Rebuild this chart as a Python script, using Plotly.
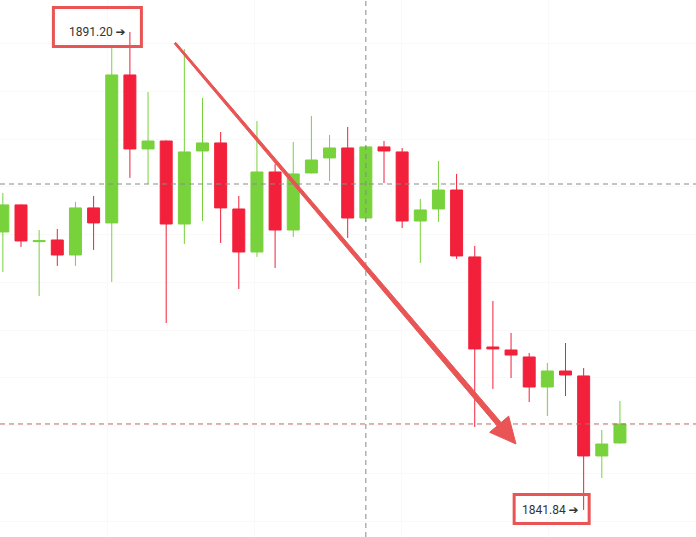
import plotly.graph_objects as go
import numpy as np

# ---- data (price values) ----
idx = list(range(35))
opens  = [1870.55, 1873.34, 1869.55, 1869.72, 1868.17, 1873.03, 1871.48, 1886.76, 1879.12, 1879.94,
          1871.37, 1878.91, 1879.74, 1872.92, 1868.48, 1876.74, 1870.75, 1876.64, 1878.19, 1879.22,
          1871.99, 1879.33, 1878.81, 1871.68, 1872.92, 1874.88, 1867.97, 1858.67, 1858.36, 1857.64,
          1854.54, 1856.19, 1855.68, 1847.42, 1848.76]
highs  = [1874.58, 1873.40, 1870.75, 1870.86, 1873.65, 1874.27, 1889.55, 1891.20, 1885.00, 1880.00,
          1889.44, 1884.38, 1880.87, 1874.27, 1882.01, 1877.57, 1879.84, 1882.53, 1880.56, 1881.39,
          1879.50, 1879.94, 1879.22, 1873.95, 1877.88, 1876.54, 1869.10, 1863.42, 1860.12, 1858.05,
          1857.02, 1859.08, 1856.50, 1850.10, 1853.10]
lows   = [1866.42, 1869.00, 1863.94, 1867.04, 1867.04, 1868.69, 1865.39, 1876.13, 1875.50, 1861.15,
          1869.31, 1871.68, 1869.41, 1864.66, 1867.97, 1866.83, 1870.03, 1876.60, 1875.81, 1869.93,
          1871.58, 1875.61, 1870.96, 1867.35, 1871.58, 1867.76, 1850.41, 1854.34, 1855.47, 1852.99,
          1851.55, 1853.61, 1841.84, 1845.14, 1848.70]
closes = [1873.34, 1869.62, 1869.65, 1868.17, 1873.03, 1871.48, 1886.76, 1879.12, 1879.94, 1871.37,
          1878.81, 1879.74, 1873.03, 1868.48, 1876.74, 1870.75, 1876.54, 1877.98, 1879.22, 1871.99,
          1879.33, 1878.91, 1871.68, 1872.82, 1874.88, 1868.07, 1858.47, 1858.47, 1857.84, 1854.54,
          1856.19, 1855.78, 1847.42, 1848.65, 1850.72]

high_label = "1891.20"
low_label = "1841.84"
high_idx = 7
low_idx = 32
crosshair_idx = 20
crosshair_price = 1875.50
last_price = 1850.72

GREEN = "#78D23C"
RED = "#F2203A"
MARK = "#E95454"
W, H = 696, 537

fig = go.Figure()
fig.add_trace(go.Candlestick(
    x=idx, open=opens, high=highs, low=lows, close=closes,
    increasing=dict(line=dict(color=GREEN, width=1), fillcolor=GREEN),
    decreasing=dict(line=dict(color=RED, width=1), fillcolor=RED),
    whiskerwidth=0, hoverinfo="skip",
))

# crosshair / price lines
fig.add_hline(y=crosshair_price, line=dict(color="#8a8a8a", width=1, dash="5px,4px"))
fig.add_hline(y=last_price, line=dict(color="#b86a6a", width=1, dash="5px,4px"))
fig.add_vline(x=crosshair_idx, line=dict(color="#8a8a8a", width=1, dash="5px,4px"))

# label boxes anchored at the extreme candles
fig.add_shape(type="rect", xref="x", yref="y", xsizemode="pixel", ysizemode="pixel",
              xanchor=high_idx, yanchor=highs[high_idx], x0=-76.5, x1=11.5, y0=-14.5, y1=24.5,
              line=dict(color=MARK, width=3), layer="above")
fig.add_shape(type="rect", xref="x", yref="y", xsizemode="pixel", ysizemode="pixel",
              xanchor=low_idx, yanchor=lows[low_idx], x0=-69.5, x1=5.5, y0=-13.5, y1=15.5,
              line=dict(color=MARK, width=3), layer="above")

fig.add_annotation(x=high_idx, y=highs[high_idx], text=high_label + " ➔", showarrow=False,
                   xanchor="right", yanchor="middle", xshift=-2,
                   font=dict(family="Roboto, DejaVu Sans", size=12, color="#333333"))
fig.add_annotation(x=low_idx, y=lows[low_idx], text=low_label + " ➔", showarrow=False,
                   xanchor="right", yanchor="middle", xshift=-3,
                   font=dict(family="Roboto, DejaVu Sans", size=12, color="#333333"))

# tapered trend arrow (decoration, pixel geometry -> paper coords)
S = np.array([175.0, 43.0]); T = np.array([516.0, 444.0])
d = (T - S) / np.linalg.norm(T - S)
n = np.array([-d[1], d[0]])
base = T - 26 * d
pts = [S + n * 1.0, base + n * 2.6, base + n * 12.5, T, base - n * 12.5, base - n * 2.6, S - n * 1.0]
path = "M " + " L ".join(f"{p[0]/W:.5f},{1 - p[1]/H:.5f}" for p in pts) + " Z"
fig.add_shape(type="path", xref="paper", yref="paper", path=path,
              fillcolor=MARK, line=dict(color=MARK, width=1), layer="above")

fig.update_layout(
    width=W, height=H, margin=dict(l=0, r=0, t=0, b=0),
    paper_bgcolor="white", plot_bgcolor="white", showlegend=False,
    boxgap=0.34, boxgroupgap=0,
    xaxis=dict(range=[-0.157, 38.19], rangeslider=dict(visible=False), showticklabels=False,
               showgrid=True, gridcolor="#f9f9f9", tick0=5.74, dtick=8.1, zeroline=False,
               showline=False, ticks=""),
    yaxis=dict(range=[1839.05, 1894.50], showticklabels=False, showgrid=True,
               gridcolor="#f9f9f9", tick0=1890.0, dtick=4.93, zeroline=False,
               showline=False, ticks=""),
)

fig.write_html("out.html")
